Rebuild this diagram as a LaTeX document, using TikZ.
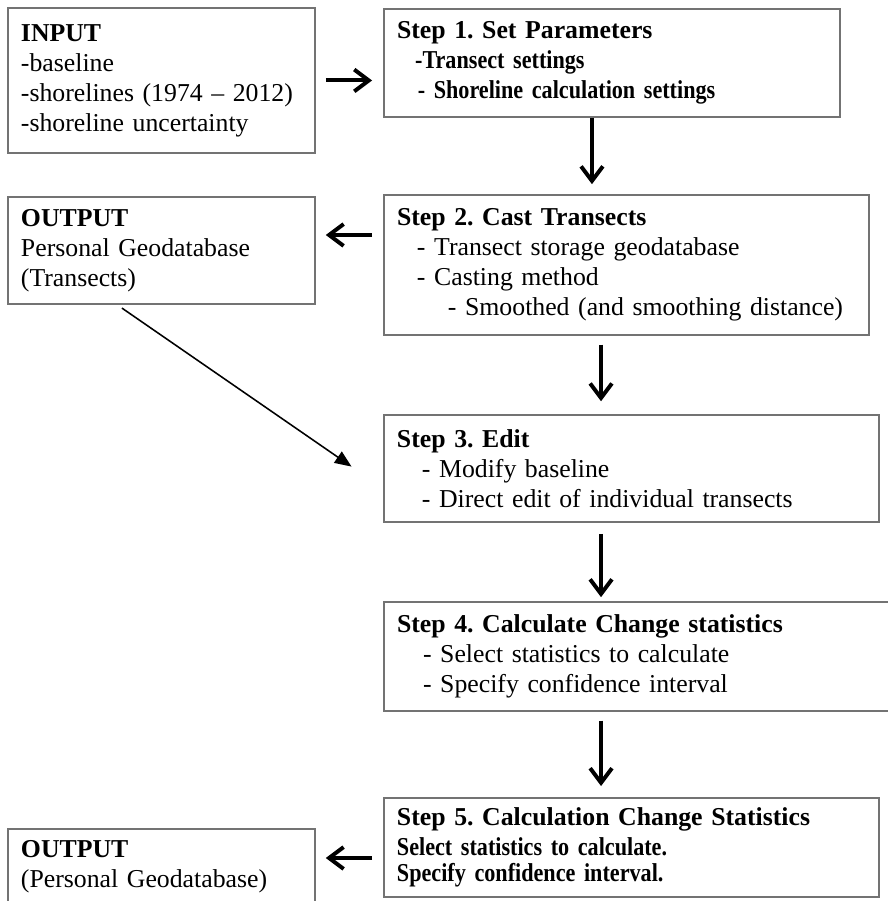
\documentclass[tikz,border=0pt]{standalone}
\usepackage{fontspec}
\setmainfont{Liberation Serif}
\newfontfamily\narrowserif[FakeStretch=0.86]{Liberation Serif}
\usetikzlibrary{arrows.meta, positioning, calc}
\frenchspacing

\begin{document}
\begin{tikzpicture}[
    box/.style={draw=gray!90!black, line width=0.7pt, align=left,
                font=\fontsize{12.4}{14.4}\selectfont, inner xsep=0.22cm, inner ysep=2pt},
    flow/.style={-{Straight Barb[length=7pt,width=10.5pt]}, line width=1.9pt},
    diag/.style={-{Triangle[length=8pt,width=6.5pt]}, line width=0.75pt},
]
\useasboundingbox (0,0) rectangle (15,-15.237);
% left column
\node[box, text width=4.752cm, minimum height=2.452cm] (inp) at (2.731,-1.361)
   {\textbf{INPUT}\\ -baseline\\ -shorelines (1974 – 2012)\\ -shoreline uncertainty};
\node[box, text width=4.752cm, minimum height=1.809cm] (out1) at (2.731,-4.236)
   {\textbf{OUTPUT}\\ Personal Geodatabase\\ (Transects)};
\node[box, text width=4.752cm, minimum height=1.285cm] (out2) at (2.731,-14.662)
   {\textbf{OUTPUT}\\ (Personal Geodatabase)};
% steps
\node[box, text width=7.271cm, minimum height=1.826cm] (step1) at (10.350,-1.065)
   {\textbf{Step 1. Set Parameters}\\
    \hspace*{8.7pt}{\narrowserif\bfseries -Transect settings}\\
    \hspace*{10pt}{\narrowserif\bfseries - Shoreline calculation settings}};
\node[box, text width=7.762cm, minimum height=2.368cm] (step2) at (10.595,-4.481)
   {\textbf{Step 2. Cast Transects}\\
    \hspace*{9.6pt}- Transect storage geodatabase\\
    \hspace*{9.6pt}- Casting method\\
    \hspace*{24.5pt}- Smoothed (and smoothing distance)};
\node[box, text width=7.931cm, minimum height=1.809cm] (step3) at (10.679,-7.923)
   {\textbf{Step 3. Edit}\\
    \hspace*{12pt}- Modify baseline\\
    \hspace*{12pt}- Direct edit of individual transects};
\node[box, text width=8.201cm, minimum height=1.843cm] (step4) at (10.815,-11.102)
   {\textbf{Step 4. Calculate Change statistics}\\
    \hspace*{12.5pt}- Select statistics to calculate\\
    \hspace*{12.5pt}- Specify confidence interval};
\node[box, text width=7.931cm, minimum height=1.674cm,
      font=\fontsize{12.4}{12.6}\selectfont] (step5) at (10.679,-14.332)
   {\textbf{Step 5. Calculation Change Statistics}\\[1.5pt]
    {\narrowserif\bfseries Select statistics to calculate.}\\
    {\narrowserif\bfseries Specify confidence interval.}};
% arrows
\coordinate (c1) at (10.011,0);
\coordinate (c2) at (10.164,0);
\draw[flow, shorten <=0.17cm, shorten >=0.19cm] (inp.east) -- (inp.east -| step1.west);
\draw[flow, shorten >=0.17cm] (step1.south -| c1) -- (step2.north -| c1);
\draw[flow, shorten <=0.19cm, shorten >=0.17cm]
   ([yshift=0.507cm]step2.west) -- ([yshift=0.507cm]step2.west -| out1.east);
\draw[diag, shorten <=0.1cm, shorten >=0.652cm]
   ([xshift=-0.752cm]out1.south) -- ([yshift=-0.338cm]step3.west);
\draw[flow, shorten <=0.15cm, shorten >=0.22cm] (step2.south -| c2) -- (step3.north -| c2);
\draw[flow, shorten <=0.19cm, shorten >=0.07cm] (step3.south -| c2) -- (step4.north -| c2);
\draw[flow, shorten <=0.15cm, shorten >=0.19cm] (step4.south -| c2) -- (step5.north -| c2);
\draw[flow, shorten <=0.19cm, shorten >=0.17cm]
   ([yshift=-0.178cm]step5.west) -- ([yshift=-0.178cm]step5.west -| out2.east);
\end{tikzpicture}
\end{document}
